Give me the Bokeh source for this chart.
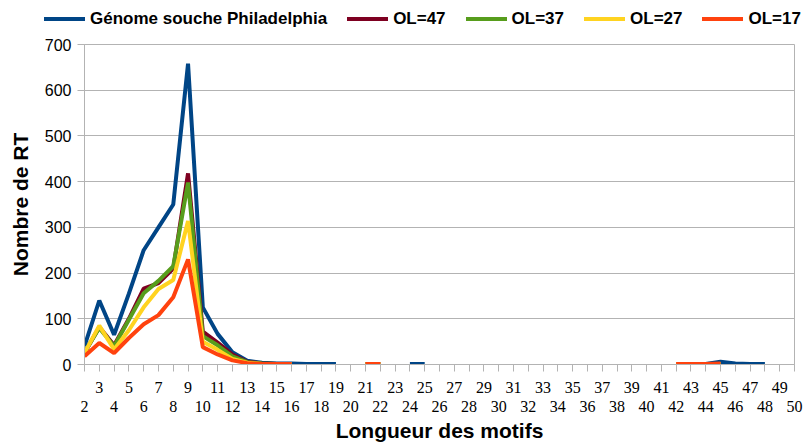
import math
from bokeh.plotting import figure
from bokeh.layouts import column
from bokeh.models import (Range1d, FixedTicker, LinearAxis, Div, ColumnDataSource)
from bokeh.embed import file_html
from bokeh.resources import INLINE

nan = float("nan")

lengths = list(range(2, 51))

def series(d):
    return [d.get(k, nan) for k in lengths]

genome = series({2: 40, 3: 140, 4: 65, 5: 155, 6: 250, 7: 300, 8: 350, 9: 658,
                 10: 125, 11: 67, 12: 27, 13: 8, 14: 4, 15: 2, 16: 2, 17: 1,
                 18: 1, 19: 1, 24: 1, 25: 1, 42: 1, 43: 1, 44: 1, 45: 6,
                 46: 2, 47: 1, 48: 1})
ol47 = series({2: 25, 3: 82, 4: 42, 5: 100, 6: 166, 7: 178, 8: 210, 9: 418,
               10: 72, 11: 48, 12: 22, 13: 6, 14: 2, 15: 1, 16: 1,
               21: 1, 22: 1, 42: 1, 43: 1, 44: 1, 45: 1})
ol37 = series({2: 27, 3: 80, 4: 40, 5: 98, 6: 156, 7: 183, 8: 215, 9: 398,
               10: 62, 11: 42, 12: 18, 13: 5, 14: 2, 15: 1, 16: 1,
               21: 1, 22: 1, 42: 1, 43: 1, 44: 1, 45: 1})
ol27 = series({2: 25, 3: 85, 4: 33, 5: 75, 6: 125, 7: 165, 8: 185, 9: 314,
               10: 50, 11: 32, 12: 12, 13: 4, 14: 1, 15: 1, 16: 1,
               21: 1, 22: 1, 42: 1, 43: 1, 44: 1, 45: 1})
ol17 = series({2: 18, 3: 47, 4: 25, 5: 58, 6: 88, 7: 108, 8: 147, 9: 230,
               10: 38, 11: 22, 12: 9, 13: 3, 14: 1, 15: 1, 16: 1,
               21: 1, 22: 1, 42: 1, 43: 1, 44: 1, 45: 2})

names = ["Génome souche Philadelphia", "OL=47", "OL=37", "OL=27", "OL=17"]
colors = ["#004586", "#7e0021", "#579d1c", "#ffd320", "#ff420e"]
values = [genome, ol47, ol37, ol27, ol17]

y_ticks = [0, 100, 200, 300, 400, 500, 600, 700]
even_ticks = [k for k in lengths if k % 2 == 0]

x_title = "Longueur des motifs"
y_title = "Nombre de RT"

GRID = "#b3b3b3"
FONT = "Liberation Sans"
W = 804

# ---------------- legend strip (HTML text) ----------------
parts = []
for i, (name, col) in enumerate(zip(names, colors)):
    gap = "" if i == 0 else '<span style="display:inline-block;width:20px"></span>'
    parts.append(
        gap
        + '<span style="display:inline-block;width:41px;height:4px;'
        + 'background:%s;vertical-align:middle;margin-right:5px"></span>' % col
        + '<span style="vertical-align:middle">%s</span>' % name)
html = ('<div style="font-family:\'Liberation Sans\';font-weight:bold;'
        'font-size:17px;color:#000000;white-space:nowrap;padding-left:44px;'
        'padding-top:8px;line-height:20px;margin:0">' + "".join(parts) + "</div>")
legend_div = Div(text=html, width=W, height=36, margin=0)

# ---------------- main chart ----------------
p = figure(width=W, height=410, output_backend="svg", toolbar_location=None,
           x_range=Range1d(2, 50), y_range=Range1d(0, 700),
           x_axis_location=None, y_axis_location=None,
           min_border_left=84, min_border_right=10, min_border_top=8,
           min_border_bottom=82)
p.outline_line_color = GRID

yax = LinearAxis(ticker=FixedTicker(ticks=y_ticks))
yax.axis_line_color = GRID
yax.major_tick_line_color = GRID
yax.major_tick_out = 7
yax.major_tick_in = 0
yax.minor_tick_line_color = None
yax.major_label_standoff = 6
yax.major_label_text_font = FONT
yax.major_label_text_font_size = "16px"
yax.major_label_text_color = "#000000"
yax.axis_label = y_title
yax.axis_label_standoff = 10
yax.axis_label_text_font = FONT
yax.axis_label_text_font_style = "bold"
yax.axis_label_text_font_size = "21px"
yax.axis_label_text_color = "#000000"
p.add_layout(yax, "left")

xax1 = LinearAxis(ticker=FixedTicker(ticks=lengths))
xax1.axis_line_color = GRID
xax1.major_tick_line_color = GRID
xax1.major_tick_out = 7
xax1.major_tick_in = 0
xax1.minor_tick_line_color = None
xax1.major_label_standoff = 10
xax1.major_label_overrides = {k: (str(k) if k % 2 == 1 else "") for k in lengths}
xax1.major_label_text_font = "Liberation Sans Narrow"
xax1.major_label_text_font_size = "16px"
xax1.major_label_text_color = "#000000"
p.add_layout(xax1, "below")

xax2 = LinearAxis(ticker=FixedTicker(ticks=even_ticks))
xax2.axis_line_color = None
xax2.major_tick_line_color = None
xax2.major_tick_out = 0
xax2.major_tick_in = 0
xax2.minor_tick_line_color = None
xax2.major_label_standoff = 5
xax2.major_label_text_font = "Liberation Sans Narrow"
xax2.major_label_text_font_size = "16px"
xax2.major_label_text_color = "#000000"
xax2.axis_label = x_title
xax2.axis_label_standoff = 4
xax2.axis_label_text_font = FONT
xax2.axis_label_text_font_style = "bold"
xax2.axis_label_text_font_size = "21px"
xax2.axis_label_text_color = "#000000"
p.add_layout(xax2, "below")

p.xgrid.visible = False
p.ygrid.ticker = FixedTicker(ticks=y_ticks)
p.ygrid.grid_line_color = GRID

for col, vals in zip(colors, values):
    src = ColumnDataSource(dict(x=lengths, y=vals))
    p.line("x", "y", source=src, line_color=col, line_width=4)

layout = column(legend_div, p, spacing=0)
open("out.html", "w").write(file_html(layout, INLINE))
